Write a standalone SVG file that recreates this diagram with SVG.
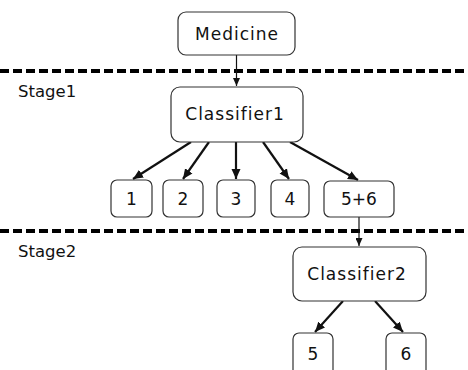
<svg xmlns="http://www.w3.org/2000/svg" width="468" height="370" viewBox="0 0 468 370">
<style>
.box{fill:#fff;stroke:#333;stroke-width:1.2}
.t{font-family:"DejaVu Sans",sans-serif;font-size:17px;fill:#111;text-anchor:middle;letter-spacing:1px}
.n{letter-spacing:0}
.lbl{font-family:"DejaVu Sans",sans-serif;font-size:16.5px;fill:#111}
.dash{stroke:#000;stroke-width:4;stroke-dasharray:9 4}
.thin{stroke:#111;stroke-width:1.2;fill:none}
.thick{stroke:#111;stroke-width:2.2;fill:none}
</style>
<defs>
<marker id="ah" markerUnits="userSpaceOnUse" markerWidth="10" markerHeight="10" viewBox="0 0 10 10" refX="10" refY="5" orient="auto">
<path d="M0,0.5 L10,5 L0,9.5 Z" fill="#111"/>
</marker>
<marker id="ahs" markerUnits="userSpaceOnUse" markerWidth="8" markerHeight="7" viewBox="0 0 8 7" refX="8" refY="3.5" orient="auto">
<path d="M0,0 L8,3.5 L0,7 Z" fill="#111"/>
</marker>
</defs>
<g id="separators">
<line class="dash" x1="0" y1="71" x2="468" y2="71"/>
<line class="dash" x1="0" y1="231" x2="468" y2="231"/>
<text class="lbl" x="18" y="97">Stage1</text>
<text class="lbl" x="18" y="257">Stage2</text>
</g>
<g id="connectors">
<line class="thin" x1="236.5" y1="55" x2="236.5" y2="86" marker-end="url(#ahs)"/>
<line class="thick" x1="191" y1="142" x2="133" y2="179" marker-end="url(#ah)"/>
<line class="thick" x1="209" y1="142" x2="183" y2="179" marker-end="url(#ah)"/>
<line class="thick" x1="236" y1="142" x2="236" y2="179" marker-end="url(#ah)"/>
<line class="thick" x1="263" y1="142" x2="289" y2="179" marker-end="url(#ah)"/>
<line class="thick" x1="290" y1="142" x2="358" y2="180" marker-end="url(#ah)"/>
<line class="thin" x1="359" y1="217" x2="359" y2="246" marker-end="url(#ahs)"/>
<line class="thick" x1="343" y1="301" x2="315" y2="332" marker-end="url(#ah)"/>
<line class="thick" x1="375" y1="301" x2="403" y2="332" marker-end="url(#ah)"/>
</g>
<g id="medicine">
<rect class="box" x="178" y="12" width="117" height="43" rx="8"/>
<text class="t" x="237" y="40">Medicine</text>
</g>
<g id="classifier1">
<rect class="box" x="171" y="87" width="132" height="55" rx="9"/>
<text class="t" x="235" y="120">Classifier1</text>
</g>
<g id="c1">
<rect class="box" x="111" y="180" width="41" height="37" rx="6"/>
<text class="t n" x="131.5" y="205">1</text>
</g>
<g id="c2">
<rect class="box" x="163" y="180" width="40" height="37" rx="6"/>
<text class="t n" x="183" y="205">2</text>
</g>
<g id="c3">
<rect class="box" x="217" y="180" width="38" height="37" rx="6"/>
<text class="t n" x="236" y="205">3</text>
</g>
<g id="c4">
<rect class="box" x="271" y="180" width="38" height="37" rx="6"/>
<text class="t n" x="290" y="205">4</text>
</g>
<g id="c56">
<rect class="box" x="324" y="181" width="70" height="36" rx="6"/>
<text class="t n" x="359" y="205">5+6</text>
</g>
<g id="classifier2">
<rect class="box" x="293" y="247" width="133" height="54" rx="9"/>
<text class="t" x="357" y="280">Classifier2</text>
</g>
<g id="c5">
<rect class="box" x="293" y="333" width="40" height="45" rx="6"/>
<text class="t n" x="313" y="360">5</text>
</g>
<g id="c6">
<rect class="box" x="386" y="333" width="40" height="45" rx="6"/>
<text class="t n" x="406" y="360">6</text>
</g>
</svg>
